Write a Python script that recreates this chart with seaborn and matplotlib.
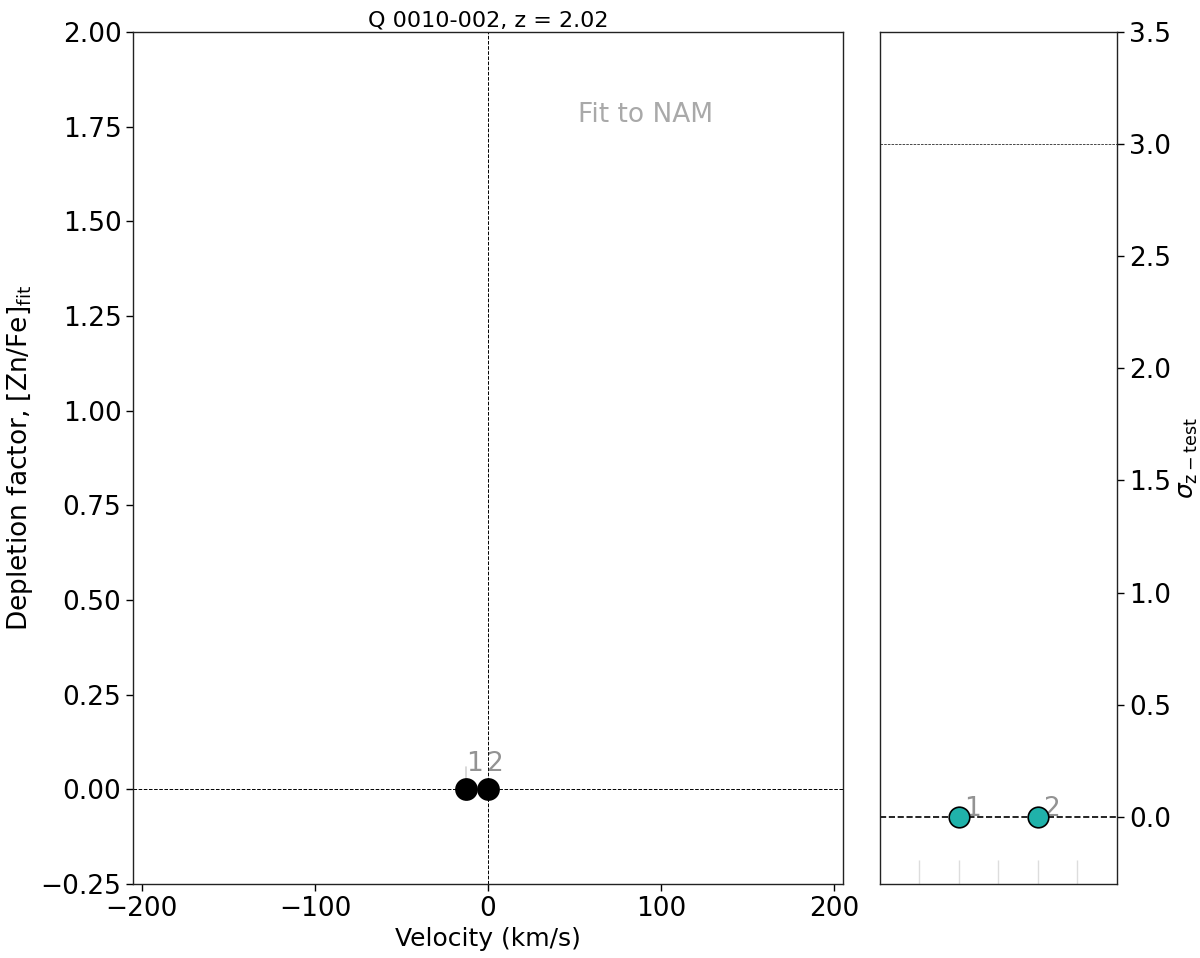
import matplotlib
matplotlib.use("Agg")
import matplotlib.pyplot as plt
import numpy as np
import pandas as pd
import seaborn as sns

# Component data
comp_ids = ["1", "2"]
comp_velocity = [-13.0, 0.0]
comp_depletion = [0.0, 0.0]
comp_xpos = [2, 4]
comp_sigma = [0.0, 0.0]
right_xticks = [1, 2, 3, 4, 5]

sns.set_style("white")
plt.rcParams["font.family"] = ["DejaVu Sans"]
plt.rcParams["text.color"] = "black"
plt.rcParams["axes.labelcolor"] = "black"
plt.rcParams["xtick.color"] = "black"
plt.rcParams["ytick.color"] = "black"

fig = plt.figure(figsize=(12, 9.58), dpi=100)
ax = fig.add_axes([0.111, 0.0772, 0.5915, 0.8894])
ax2 = fig.add_axes([0.7333, 0.0772, 0.1975, 0.8894])

df = pd.DataFrame({"comp": comp_ids, "v": comp_velocity, "dep": comp_depletion,
                   "x": comp_xpos, "sig": comp_sigma})

# Left panel
ax.axhline(0, color="black", ls="--", lw=0.7)
ax.axvline(0, color="black", ls="--", lw=0.7)
sns.scatterplot(data=df, x="v", y="dep", ax=ax, color="black", s=230,
                edgecolor="black", zorder=5, legend=False)
label_dx = [5.0, 3.8]
for c, v, d, dx in zip(comp_ids, comp_velocity, comp_depletion, label_dx):
    ax.text(v + dx, d + 0.048, c, color="gray", fontsize=19, ha="center", va="baseline", alpha=0.85)
ax.plot([comp_velocity[0], comp_velocity[0]], [0.0, 0.058], color="lightgray", lw=1.2, zorder=1)
ax.text(91, 1.78, "Fit to NAM", color="darkgray", fontsize=19, ha="center", va="center")
ax.set_xlim(-205, 205)
ax.set_ylim(-0.25, 2.0)
ax.set_yticks(np.arange(-0.25, 2.01, 0.25))
ax.set_xticks([-200, -100, 0, 100, 200])
ax.set_xlabel("Velocity (km/s)", fontsize=18)
ax.set_ylabel("Depletion factor, [Zn/Fe]$_{\\rm fit}$", fontsize=19)
ax.set_title("Q 0010-002, z = 2.02", fontsize=16, pad=4)
ax.tick_params(axis="both", direction="out", length=5, width=1, labelsize=19,
               left=True, bottom=True)
for s in ax.spines.values():
    s.set_color("#222222")
    s.set_linewidth(1)

# Right panel
ax2.axhline(3.0, color="black", ls="--", lw=0.5)
ax2.axhline(0.0, color="black", ls="--", lw=1.2)
sns.scatterplot(data=df, x="x", y="sig", ax=ax2, color="lightseagreen", s=220,
                edgecolor="black", linewidth=1.2, zorder=5, legend=False)
for c, x, sg in zip(comp_ids, comp_xpos, comp_sigma):
    ax2.text(x + 0.12, sg + 0.005, c, color="gray", fontsize=19, ha="left", va="baseline", alpha=0.85)
ax2.set_xlim(0, 6)
ax2.set_ylim(-0.3, 3.5)
ax2.set_xticks(right_xticks)
ax2.set_xticklabels([])
ax2.tick_params(axis="x", direction="in", length=17, color="#dddddd", width=1, bottom=True)
ax2.yaxis.tick_right()
ax2.yaxis.set_label_position("right")
ax2.set_yticks(np.arange(0, 3.51, 0.5))
ax2.tick_params(axis="y", direction="out", length=5, width=1, labelsize=19,
                right=True, left=False)
ax2.set_ylabel("$\\sigma_{\\rm z-test}$", fontsize=18)
ax2.set_xlabel("")
for s in ax2.spines.values():
    s.set_color("#222222")
    s.set_linewidth(1)

fig.savefig("out.png", dpi=100)
